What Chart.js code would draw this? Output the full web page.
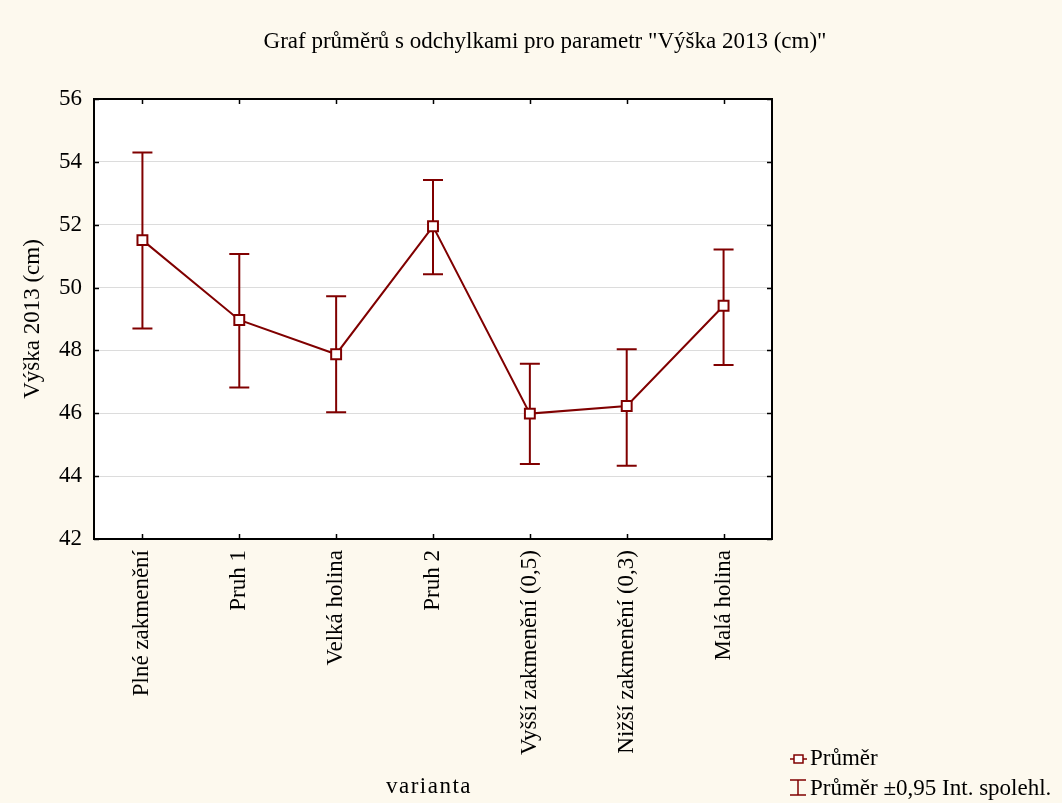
<!DOCTYPE html>
<html>
<head>
<meta charset="utf-8">
<script src="https://cdn.jsdelivr.net/npm/chart.js@4/dist/chart.umd.min.js"></script>
<style>
  html, body { margin: 0; padding: 0; background: #FDF9EE; }
  #wrap { width: 1062px; height: 803px; }
</style>
</head>
<body>
<div id="wrap"><canvas id="c" width="1062" height="803"></canvas></div>
<script>
// Mean height per treatment variant with 95% confidence limits
const categories = ["Plné zakmenění", "Pruh 1", "Velká holina", "Pruh 2",
                    "Vyšší zakmenění (0,5)", "Nižší zakmenění (0,3)", "Malá holina"];
const means = [51.51, 48.97, 47.88, 51.95, 45.99, 46.23, 49.42];
const lowerCI = [48.70, 46.82, 46.03, 50.42, 44.39, 44.33, 47.54];
const upperCI = [54.30, 51.07, 49.72, 53.42, 47.58, 48.04, 51.21];
const yTicks = [42, 44, 46, 48, 50, 52, 54, 56];

const titleText = 'Graf průměrů s odchylkami pro parametr "Výška 2013 (cm)"';
const yTitle = "Výška 2013 (cm)";
const xTitle = "varianta";
const legendMean = "Průměr";
const legendCI = "Průměr ±0,95 Int. spolehl.";

const RED = "#800000";
const FONT = "'Liberation Serif', 'Times New Roman', serif";

// Error bars drawn under the mean line and markers
const errorBars = {
  id: "errorBars",
  beforeDatasetsDraw(chart) {
    const { ctx, scales: { x, y } } = chart;
    ctx.save();
    ctx.strokeStyle = RED;
    ctx.lineWidth = 2;
    for (let i = 0; i < categories.length; i++) {
      const px = x.getPixelForValue(i);
      const yl = y.getPixelForValue(lowerCI[i]);
      const yu = y.getPixelForValue(upperCI[i]);
      ctx.beginPath();
      ctx.moveTo(px, yl); ctx.lineTo(px, yu);
      ctx.moveTo(px - 10, yu); ctx.lineTo(px + 10, yu);
      ctx.moveTo(px - 10, yl); ctx.lineTo(px + 10, yl);
      ctx.stroke();
    }
    ctx.restore();
  }
};

// Plot frame, inward ticks, titles and legend
const decorations = {
  id: "decorations",
  beforeDraw(chart) {
    const { ctx, chartArea: a } = chart;
    ctx.save();
    ctx.fillStyle = "#FDF9EE";
    ctx.fillRect(0, 0, chart.width, chart.height);
    ctx.fillStyle = "#FFFFFF";
    ctx.fillRect(a.left, a.top, a.right - a.left, a.bottom - a.top);
    ctx.restore();
  },
  afterDraw(chart) {
    const { ctx, chartArea: a, scales: { x, y } } = chart;
    ctx.save();
    ctx.strokeStyle = "#000";
    ctx.lineWidth = 1.5;
    ctx.beginPath();
    for (let i = 0; i < categories.length; i++) {
      const px = Math.round(x.getPixelForValue(i)) + 0.5;
      ctx.moveTo(px, a.bottom); ctx.lineTo(px, a.bottom - 5);
      ctx.moveTo(px, a.top); ctx.lineTo(px, a.top + 5);
    }
    yTicks.forEach(v => {
      const py = Math.round(y.getPixelForValue(v)) + 0.5;
      ctx.moveTo(a.left, py); ctx.lineTo(a.left + 5, py);
      ctx.moveTo(a.right, py); ctx.lineTo(a.right - 5, py);
    });
    ctx.stroke();
    ctx.lineWidth = 2;
    ctx.strokeRect(a.left, a.top, a.right - a.left, a.bottom - a.top);

    ctx.fillStyle = "#000";
    ctx.textBaseline = "middle";
    ctx.textAlign = "center";
    ctx.font = "23px " + FONT;
    ctx.fillText(titleText, 545, 42);

    ctx.save();
    ctx.letterSpacing = "1.5px";
    ctx.fillText(xTitle, (a.left + a.right) / 2 - 4, 787);
    ctx.restore();

    ctx.save();
    ctx.translate(33, (a.top + a.bottom) / 2);
    ctx.rotate(-Math.PI / 2);
    ctx.font = "23px " + FONT;
    ctx.fillText(yTitle, 0, 0);
    ctx.restore();

    // legend
    ctx.textAlign = "left";
    ctx.font = "23px " + FONT;
    ctx.strokeStyle = RED;
    ctx.lineWidth = 1.5;
    ctx.beginPath();
    ctx.moveTo(790, 759); ctx.lineTo(807, 759);
    ctx.stroke();
    ctx.fillStyle = "#fff";
    ctx.fillRect(794, 755, 9, 8);
    ctx.strokeRect(794, 755, 9, 8);
    ctx.fillStyle = "#000";
    ctx.fillText(legendMean, 810, 759);

    ctx.beginPath();
    ctx.moveTo(798, 780); ctx.lineTo(798, 795);
    ctx.moveTo(790, 780); ctx.lineTo(806, 780);
    ctx.moveTo(790, 795); ctx.lineTo(806, 795);
    ctx.stroke();
    ctx.fillText(legendCI, 810, 789);
    ctx.restore();
  }
};

new Chart(document.getElementById("c"), {
  type: "line",
  data: {
    labels: categories,
    datasets: [{
      data: means,
      borderColor: RED,
      borderWidth: 2,
      pointStyle: "rect",
      pointRadius: 7,
      pointBorderWidth: 2,
      pointBackgroundColor: "#FFFFFF",
      pointBorderColor: RED,
      tension: 0,
      fill: false
    }]
  },
  options: {
    responsive: false,
    animation: false,
    devicePixelRatio: 1,
    layout: { padding: { left: 0, top: 99, right: 290, bottom: 0 } },
    plugins: { legend: { display: false }, title: { display: false }, tooltip: { enabled: false } },
    scales: {
      x: {
        offset: true,
        grid: { display: false, drawTicks: false },
        border: { display: false },
        ticks: {
          autoSkip: false,
          maxRotation: 90, minRotation: 90,
          padding: 11,
          color: "#000",
          font: { family: FONT, size: 23 }
        },
        afterFit(s) { s.height = 264; }
      },
      y: {
        min: 42, max: 56,
        afterBuildTicks(s) { s.ticks = yTicks.map(v => ({ value: v })); },
        grid: { color: "#DCDCDC", lineWidth: 1, drawTicks: false },
        border: { display: false },
        ticks: {
          padding: 12,
          color: "#000",
          font: { family: FONT, size: 23 }
        },
        afterFit(s) { s.width = 94; }
      }
    }
  },
  plugins: [errorBars, decorations]
});
</script>
</body>
</html>
